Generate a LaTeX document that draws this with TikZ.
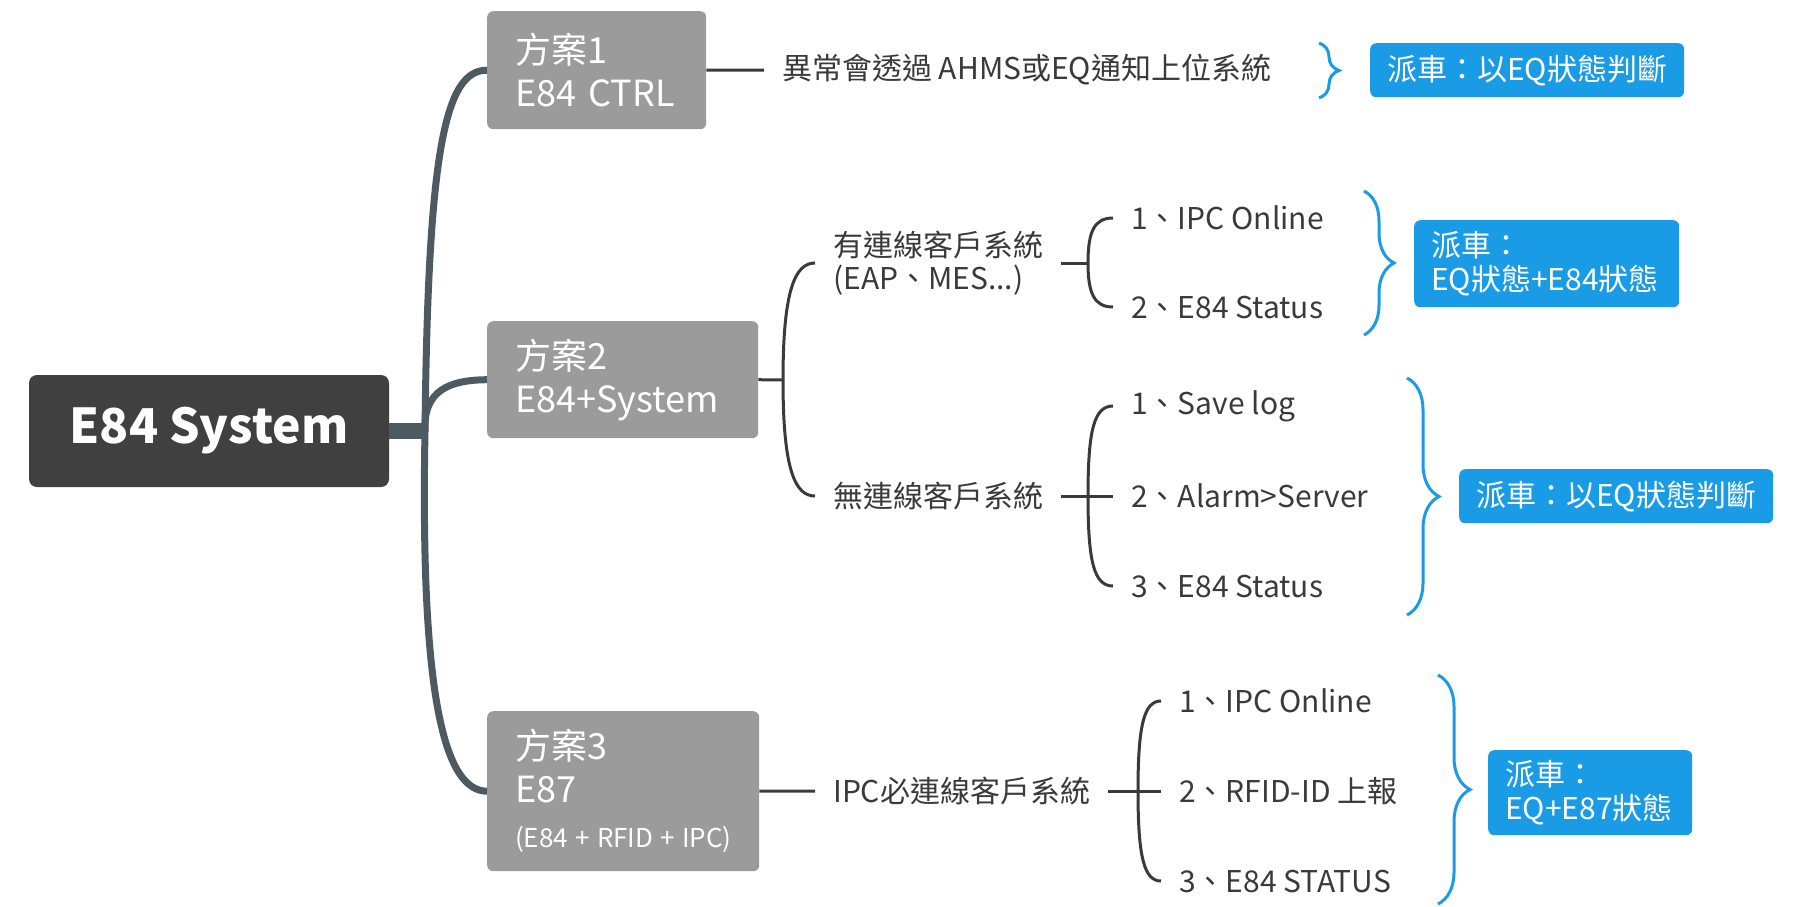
\documentclass[tikz,border=0pt]{standalone}
\usepackage{fontspec}
\setmainfont{Noto Sans CJK TC}
\usepackage{tikz}
\usetikzlibrary{positioning,decorations.pathreplacing}

\definecolor{rootgray}{HTML}{404040}
\definecolor{plangray}{HTML}{9B9B9B}
\definecolor{trunkgray}{HTML}{4E5A61}
\definecolor{inkgray}{HTML}{3A3A3A}
\definecolor{tagblue}{HTML}{1A9BE6}

\tikzset{
  rootbox/.style={fill=rootgray, rounded corners=8pt, text=white, minimum width=360pt, minimum height=112pt, font=\fontsize{48}{56}\selectfont\bfseries},
  planbox/.style={fill=plangray, rounded corners=6pt, text=white, align=left, anchor=north west, inner xsep=28pt, font=\fontsize{36}{43}\selectfont},
  item/.style={text=inkgray, inner xsep=18pt, inner ysep=2pt, anchor=west, align=left, font=\fontsize{30}{33}\selectfont},
  tag/.style={fill=tagblue, text=white, rounded corners=6pt, anchor=north west, inner xsep=17pt, font=\fontsize{30}{34}\selectfont},
  branch/.style={draw=trunkgray, line width=7pt},
  twig/.style={draw=inkgray, line width=3pt},
  sumbrace/.style={draw=tagblue, line width=3pt, decorate, decoration={brace, amplitude=#1}}
}

\begin{document}
\begin{tikzpicture}[x=1pt, y=-1pt]
  \useasboundingbox (0,0) rectangle (1795,906);

  \node[rootbox] (root) at (209,431) {E84 System};
  \node[planbox, text width=163pt, minimum height=118pt] (p1) at (487,11) {方案1\\E84 CTRL};
  \node[planbox, text width=215pt, minimum height=117pt] (p2) at (487,321) {方案2\\E84+System};
  \node[planbox, text width=216pt, minimum height=160pt] (p3) at (487,711) {方案3\\E87\\[2pt]\hbox{\fontsize{26}{30}\selectfont (E84\;+\;RFID\;+\;IPC)}};

  % main branches
  \coordinate (hub) at (425,431);
  \draw[branch, line width=16pt] (root.east) -- (hub);
  \draw[branch] (hub) .. controls (428,150) and (445,70) .. (p1.west);
  \draw[branch] (hub) .. controls (423,390) and (450,380) .. (p2.west);
  \draw[branch] (hub) .. controls (420,700) and (445,791) .. (p3.west);

  % plan 1
  \node[item] (q1) at (764,70) {異常會透過 AHMS或EQ通知上位系統};
  \draw[twig] (p1.east) -- (q1.west);

  % plan 2
  \node[item] (q21) at (815,263) {有連線客戶系統\\(EAP、MES...)};
  \node[item] (q22) at (815,496) {無連線客戶系統};
  \coordinate (m2) at (783,380);
  \draw[twig] (p2.east) -- (m2);
  \draw[twig] (m2) .. controls (783,290) and (795,263) .. (q21.west);
  \draw[twig] (m2) .. controls (783,470) and (795,496) .. (q22.west);

  \node[item] (a1) at (1113,218) {1、IPC Online};
  \node[item] (a2) at (1113,307) {2、E84 Status};
  \coordinate (m21) at (1088,263);
  \draw[twig] (q21.east) -- (m21);
  \draw[twig] (m21) .. controls (1088,232) and (1094,218) .. (a1.west);
  \draw[twig] (m21) .. controls (1088,293) and (1094,307) .. (a2.west);

  \node[item] (b1) at (1113,406) {1、Save log};
  \node[item] (b2) at (1113,496) {2、Alarm>Server};
  \node[item] (b3) at (1113,586) {3、E84 Status};
  \coordinate (m22) at (1088,496);
  \draw[twig] (q22.east) -- (b2.west);
  \draw[twig] (m22) .. controls (1088,430) and (1094,406) .. (b1.west);
  \draw[twig] (m22) .. controls (1088,562) and (1094,586) .. (b3.west);

  % plan 3
  \node[item] (q3) at (815,791) {IPC必連線客戶系統};
  \draw[twig] (p3.east) -- (q3.west);
  \node[item] (c1) at (1161,701) {1、IPC Online};
  \node[item] (c2) at (1161,791) {2、RFID-ID 上報};
  \node[item] (c3) at (1161,881) {3、E84 STATUS};
  \coordinate (m3) at (1138,791);
  \draw[twig] (q3.east) -- (c2.west);
  \draw[twig] (m3) .. controls (1138,725) and (1144,701) .. (c1.west);
  \draw[twig] (m3) .. controls (1138,857) and (1144,881) .. (c3.west);

  % summaries
  \draw[sumbrace=20pt] (1319,43) -- (1319,98);
  \draw[sumbrace=30pt] (1364,191) -- (1364,335);
  \draw[sumbrace=32pt] (1407,378) -- (1407,615);
  \draw[sumbrace=32pt] (1438,675) -- (1438,904);

  \node[tag, minimum width=311pt, minimum height=54pt] (t1) at (1370,43) {派車：以EQ狀態判斷};
  \node[tag, align=left, text width=231pt, minimum height=87pt] (t2) at (1414,220) {派車：\\EQ狀態+E84狀態};
  \node[tag, minimum width=312pt, minimum height=54pt] (t3) at (1459,469) {派車：以EQ狀態判斷};
  \node[tag, align=left, text width=170pt, minimum height=85pt] (t4) at (1488,750) {派車：\\EQ+E87狀態};
\end{tikzpicture}
\end{document}
